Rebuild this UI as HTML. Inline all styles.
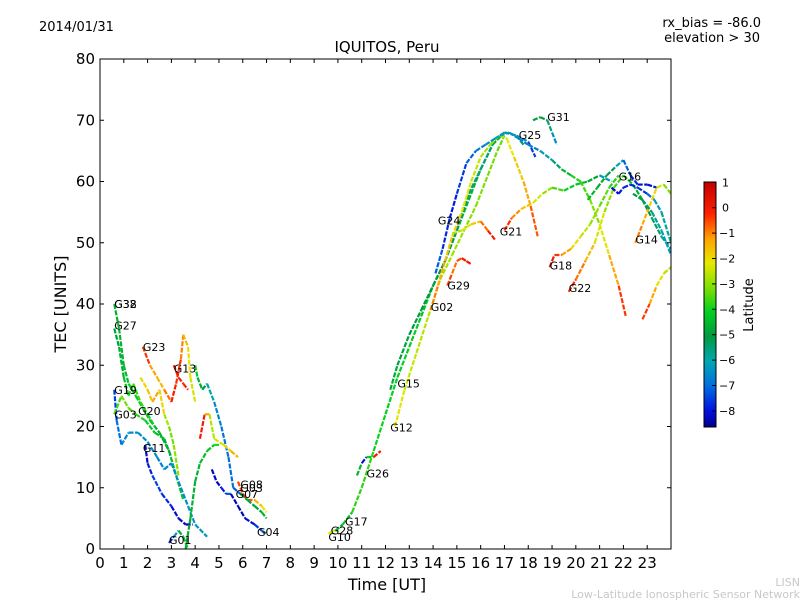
<!DOCTYPE html>
<html><head><meta charset="utf-8"><style>
html,body{margin:0;padding:0;background:#fff;}
svg{display:block;font-family:"DejaVu Sans","Liberation Sans",sans-serif;}
</style></head><body>
<svg id="chart" width="800" height="600" viewBox="0 0 800 600">
<defs>
<linearGradient id="cbgrad" x1="0" y1="1" x2="0" y2="0">
<stop offset="0" stop-color="#00008c"/>
<stop offset="0.065" stop-color="#0010e0"/>
<stop offset="0.17" stop-color="#0070e0"/>
<stop offset="0.27" stop-color="#00a8b0"/>
<stop offset="0.37" stop-color="#009a40"/>
<stop offset="0.47" stop-color="#00d020"/>
<stop offset="0.57" stop-color="#80e000"/>
<stop offset="0.67" stop-color="#e8e800"/>
<stop offset="0.77" stop-color="#ffa000"/>
<stop offset="0.87" stop-color="#ff2000"/>
<stop offset="1" stop-color="#c00000"/>
</linearGradient>
<clipPath id="plotclip"><rect x="100" y="59" width="571" height="490"/></clipPath>
</defs>
<rect x="0" y="0" width="800" height="600" fill="#fff"/>
<text x="39" y="31" font-size="13">2014/01/31</text>
<text x="761" y="27" font-size="13" text-anchor="end">rx_bias = -86.0</text>
<text x="760" y="42" font-size="13" text-anchor="end">elevation &gt; 30</text>
<text x="387" y="52" font-size="15" text-anchor="middle">IQUITOS, Peru</text>
<g id="marks" clip-path="url(#plotclip)"></g>
<g id="labels"></g>
<rect x="100" y="59" width="571" height="490" fill="none" stroke="#000" stroke-width="1"/>
<g id="axes"></g>
<text x="387" y="590" font-size="16" text-anchor="middle">Time [UT]</text>
<text transform="translate(66,304) rotate(-90)" font-size="16" text-anchor="middle">TEC [UNITS]</text>
<rect x="704" y="182" width="12" height="245" fill="url(#cbgrad)" stroke="#000" stroke-width="1"/>
<g id="cbticks"></g>
<text transform="translate(753,305) rotate(-90)" font-size="13" text-anchor="middle">Latitude</text>
<text x="800" y="586" font-size="11" fill="#c8c8c8" text-anchor="end">LISN</text>
<text x="800" y="598" font-size="11" fill="#c8c8c8" text-anchor="end">Low-Latitude Ionospheric Sensor Network</text>
</svg>
<script>
const xTicks=[0,1,2,3,4,5,6,7,8,9,10,11,12,13,14,15,16,17,18,19,20,21,22,23];
const yTicks=[0,10,20,30,40,50,60,70,80];
const cbTicks=[1,0,-1,-2,-3,-4,-5,-6,-7,-8];
const trackNames=["G38","G27","G19","G11","G23","G13","G20","G03","G4a","G4b","G4c","G4d","G08","G07","G04","G01","G10","G17","G26","G12","G15","G02","G24","G29","G29b","G21","G25","G31","G31b","G18","G22","G16","G14","G14b","G16b"];
const trackTimes=[
[0.6,0.8,1.0,1.2,1.5,1.8,2.1,2.5,2.9,3.2,3.5],
[0.6,0.8,1.0,1.2,1.4,1.7,2.0,2.3],
[0.6,0.7,0.9,1.2,1.6,2.0,2.4,2.7,3.0,3.3,3.7,4.0,4.5],
[1.9,2.0,2.2,2.6,3.0,3.3,3.6,3.9],
[1.8,2.1,2.4,2.7,3.0,3.2,3.4,3.5,3.7,3.8,4.0],
[3.1,3.3,3.5,3.7],
[1.7,2.0,2.2,2.5,2.7,2.9,3.1,3.3],
[0.6,0.9,1.2,1.5,1.9,2.3,2.7,3.0],
[4.0,4.1,4.3,4.5,4.8,5.1,5.4,5.6,5.9],
[3.6,3.8,4.0,4.2,4.5,4.8,5.0],
[4.2,4.4,4.6,4.8,5.2,5.5,5.8],
[4.7,4.9,5.1,5.3,5.5],
[5.8,6.0,6.2,6.5,6.8,7.0],
[5.9,6.2,6.5,6.8,7.0],
[5.5,5.8,6.1,6.5,6.8,7.0],
[2.9,3.1,3.3,3.5,3.7],
[9.6,9.8,10.0],
[9.9,10.2,10.6,11.0,11.5,12.0,12.5,13.0,13.5,14.0,14.5,15.0,15.5,16.0,16.5,17.0,17.5,17.8],
[10.8,11.0,11.2,11.5,11.8],
[12.4,12.8,13.3,13.8,14.3,14.8,15.3,15.8,16.3,16.7,17.0],
[12.2,12.5,13.0,13.5,14.0,14.5,15.0,15.5,16.0,16.5],
[13.9,14.2,14.5,14.8,15.2,15.6,16.0,16.4,16.8,17.1,17.4,17.8,18.1,18.4],
[14.1,14.4,14.7,15.0,15.4,15.8,16.2,16.6,17.0,17.5,18.0,18.3],
[14.6,14.8,15.0,15.2,15.4,15.6],
[14.8,15.2,15.6,16.0,16.3,16.6],
[17.0,17.3,17.7,18.2,18.6,19.0,19.5,20.0,20.5,21.0,21.5],
[16.8,17.2,17.6,18.0,18.5,19.0,19.4,19.8,20.2,20.6,21.0,21.4,21.8,22.1],
[18.2,18.5,18.8,19.0,19.2],
[20.5,20.9,21.3,21.7,22.0,22.3,22.6,23.0,23.4],
[18.9,19.1,19.4,19.8,20.2,20.6,21.0,21.4,21.8],
[19.7,20.0,20.4,20.8,21.2,21.6,22.0,22.4,22.8,23.2,23.6,24.0],
[21.5,21.8,22.0,22.3,22.6,23.0,23.3,23.6,24.0],
[22.5,22.8,23.1,23.4,23.7,24.0],
[22.8,23.1,23.4,23.7,24.0],
[22.4,22.8,23.2,23.6,24.0]
];
const trackTec=[
[40,36,30,27,25,23,21,19,16,12,8],
[36,33,28,25,27,24,22,20],
[26,21,17,19,19,17.5,15,13,14,11,7,4,2],
[17,14,12,9,7,5,4,4],
[33,30,28,26,24,27,31,35,33,28,24],
[30,28,27,26],
[28,26,24,26,22,20,17,12],
[22,25,23,22,21,19,18,15],
[30,28,26,27,24,20,15,10,9],
[0,5,11,14,16,17,17],
[18,22,22,18,17,16,15],
[13,11,10,9,9],
[11,9,8,8,7,6],
[9,8,7,6,5],
[9,7,5,4,3,2.5],
[1,2,3,2,0],
[2.5,3,3],
[3,4,6,10,16,22,28,33,38,43,47,52,57,62,66,68,67.5,66],
[12,14,15,15,16],
[20,26,32,38,44,48,52,56,61,65,67.5],
[26,30,35,39,43,47,52,58,62,66],
[39,43,47,51,55,60,64,66,67.5,67,64,60,56,51],
[45,49,54,58,63,65,66,67,68,67.5,66.5,64],
[43,45,47,47.5,47,46.5],
[51.5,52,53,53.5,52,50.5],
[52,54,55.5,56.5,58,59,58.5,59.5,60,61,60],
[67.5,68,67,66,65,63.5,62,61,60,57,53,48,43,38],
[70,70.5,70,68,66],
[57,59,61,62.5,63.5,61,59.5,59.5,59],
[46,48,48,49,51,53,56,59,61],
[42,44,47,50,55,59,61,59.5,57,54,51,49],
[59,58,59,59.5,59,58,57,55,50],
[50,53,56,59,59.5,58],
[37.5,40,43,45,46],
[58,57,55,52,48]
];
const trackLat=[
[-4.5,-4.5,-4.5,-4.2,-4.0,-4.2,-4.5,-4.8,-4.5,-4.2,-4],
[-5,-4.8,-4.5,-4,-3.5,-3.5,-3.8,-4],
[-7.8,-7.2,-6.8,-6.5,-6.5,-6.5,-6.5,-6.8,-6.5,-6.5,-6.5,-6.3,-6.3],
[-8.2,-8.2,-7.5,-7.5,-8,-8.2,-8.3,-8.3],
[0.2,-0.5,-1.5,-1.2,0,0.3,-0.5,-1,-1.8,-2,-2.5],
[0.3,0.2,0.1,0],
[-1.5,-2,-1,-1.2,-2.2,-3,-3.2,-2.5],
[-4,-3,-3.2,-3.5,-4,-4.2,-4.5,-4.8],
[-3.5,-4.5,-4.8,-5.5,-6.3,-6.8,-7,-7,-7.3],
[-4.8,-4.5,-4.6,-4.4,-4.2,-4.0,-3.5],
[0.2,0.3,-2.5,-2.5,-2,-1.5,-1],
[-8.2,-8.3,-8.3,-7.5,-7],
[-0.5,0,0.2,-1,-1.8,-2.2],
[-4.5,-4.8,-4.8,-4.6,-4.5],
[-8.3,-8.3,-8.4,-8,-7.2,-6.5],
[-8.3,-7.5,-5,-4.5,-4.2],
[-4,0.2,-5],
[-4.5,-4.5,-3.8,-3.5,-3.8,-4,-4,-4,-4.2,-4.2,-4.3,-4.3,-4.5,-4.5,-4.5,-4.8,-5.3,-5.5],
[-1,-8,-8,0,0.2],
[-2,-2.2,-2.4,-2.5,-2.6,-2.7,-2.8,-3,-3,-3.2,-3.3],
[-4.6,-4.8,-5,-5,-5,-5.2,-5.2,-5.5,-5.5,-5.5],
[-0.5,-1,-1.3,-1.6,-1.9,-2.2,-2.5,-2.7,-3,-2.2,-1.8,-1.4,-0.8,0],
[-7,-7.5,-8,-7.8,-7.3,-7,-6.5,-6.3,-6,-6.2,-6.8,-8.2],
[0,-0.5,-0.8,0.2,0.3,0.4],
[-2.8,-2.3,-1.8,-1.2,0,0.3],
[0.3,-0.5,-1.2,-1.8,-2.5,-3.2,-3.8,-4.2,-4.5,-5,-7.5],
[-6.2,-6.4,-6.6,-6.8,-6.5,-6,-5,-4,-3.6,-3.4,-2.6,-1.6,-0.6,0.3],
[-5,-4.8,-5,-6,-7],
[-4.3,-4.5,-5,-5.5,-6.8,-7.5,-8,-8.2,-8],
[0.3,0.2,-0.5,-1.5,-2.2,-2.6,-3,-3.5,-4],
[0.3,-0.3,-1,-1.8,-2.5,-3.2,-3.8,-4.3,-4.8,-5.2,-5.6,-6],
[-8.2,-8,-7.8,-7.8,-7.8,-7.5,-6.5,-6,-5.5],
[-0.5,-1,-1.5,-2,-2.5,-3.5],
[0.3,-0.7,-1.5,-2.2,-2.8],
[-5,-5.2,-5.5,-6,-6.5]
];
const labelNames=["G32","G38","G27","G23","G13","G19","G03","G20","G11","G01","G08","G03","G07","G04","G10","G28","G17","G26","G12","G15","G02","G29","G24","G21","G25","G31","G18","G22","G16","G14"];
const labelTimes=[0.6,0.6,0.6,1.8,3.1,0.6,0.6,1.6,1.8,2.9,5.9,5.9,5.7,6.6,9.6,9.7,10.3,11.2,12.2,12.5,13.9,14.6,14.2,16.8,17.6,18.8,18.9,19.7,21.8,22.5];
const labelTec=[40,40,36.5,33,29.5,26,22,22.5,16.5,1.5,10.5,10,9,2.8,2,3,4.5,12.3,19.8,27,39.5,43,53.6,51.8,67.6,70.5,46.3,42.6,60.8,50.5];

const NS='http://www.w3.org/2000/svg';
const X0=100,X1=671,Y0=549,Y1=59;
function xs(t){return X0+(t-0)/(24-0)*(X1-X0);}
function ys(v){return Y0-(v-0)/(80-0)*(Y0-Y1);}
function cbY(l){return 207.7-l*25.4;}
const stops=[[-8.64,[0,0,140]],[-8,[0,16,224]],[-7,[0,112,224]],[-6,[0,168,176]],[-5,[0,154,64]],[-4,[0,208,32]],[-3,[128,224,0]],[-2,[232,232,0]],[-1,[255,160,0]],[0,[255,32,0]],[1.2,[192,0,0]]];
function latColor(l){
  if(l<=stops[0][0])return 'rgb('+stops[0][1]+')';
  for(let i=1;i<stops.length;i++){
    if(l<=stops[i][0]){const a=stops[i-1],b=stops[i];const f=(l-a[0])/(b[0]-a[0]);
      const c=a[1].map((v,k)=>Math.round(v+(b[1][k]-v)*f));return 'rgb('+c.join(',')+')';}
  }
  return 'rgb('+stops[stops.length-1][1]+')';
}
const marks=document.getElementById('marks');
for(let i=0;i<trackTimes.length;i++){
  const g=document.createElementNS(NS,'g');
  
  
  const T=trackTimes[i],V=trackTec[i],L=trackLat[i];
  for(let j=0;j<T.length-1;j++){
    const ln=document.createElementNS(NS,'line');
    
    
    ln.setAttribute('x1',xs(T[j]));ln.setAttribute('y1',ys(V[j]));
    ln.setAttribute('x2',xs(T[j+1]));ln.setAttribute('y2',ys(V[j+1]));
    ln.setAttribute('stroke',latColor((L[j]+L[j+1])/2));
    ln.setAttribute('stroke-width','2.2');
    ln.setAttribute('stroke-dasharray','5 1.5');
    g.appendChild(ln);
  }
  marks.appendChild(g);
}
const labels=document.getElementById('labels');
for(let i=0;i<labelNames.length;i++){
  const t=document.createElementNS(NS,'text');
  
  
  t.setAttribute('x',xs(labelTimes[i]));t.setAttribute('y',ys(labelTec[i])+4);
  t.setAttribute('font-size','11');
  t.textContent=labelNames[i];
  labels.appendChild(t);
}
const axes=document.getElementById('axes');
function mk(tag,attrs,name){const e=document.createElementNS(NS,tag);for(const k in attrs)e.setAttribute(k,attrs[k]);
  
  
  axes.appendChild(e);return e;}
xTicks.forEach(v=>{const x=xs(v);
  mk('line',{x1:x,y1:Y0,x2:x,y2:Y0-4,stroke:'#000'},'x-tick');
  mk('line',{x1:x,y1:Y1,x2:x,y2:Y1+4,stroke:'#000'},'x-tick-top');
  const t=mk('text',{x:x,y:568,'font-size':'15','text-anchor':'middle'},'x-tick-label');t.textContent=v;});
yTicks.forEach(v=>{const y=ys(v);
  mk('line',{x1:X0,y1:y,x2:X0+4,y2:y,stroke:'#000'},'y-tick');
  mk('line',{x1:X1,y1:y,x2:X1-4,y2:y,stroke:'#000'},'y-tick-right');
  const t=mk('text',{x:95,y:y+5,'font-size':'15','text-anchor':'end'},'y-tick-label');t.textContent=v;});
const cbg=document.getElementById('cbticks');
cbTicks.forEach(v=>{const y=cbY(v);
  const a=document.createElementNS(NS,'line');
  
  
  a.setAttribute('x1',712);a.setAttribute('x2',716);a.setAttribute('y1',y);a.setAttribute('y2',y);a.setAttribute('stroke','#000');cbg.appendChild(a);
  const t=document.createElementNS(NS,'text');
  
  
  t.setAttribute('x',v<0?719:722);t.setAttribute('y',y+4);t.setAttribute('font-size','11');
  t.textContent=v<0?'\u2212'+Math.abs(v):v;cbg.appendChild(t);});
</script>
</body></html>
